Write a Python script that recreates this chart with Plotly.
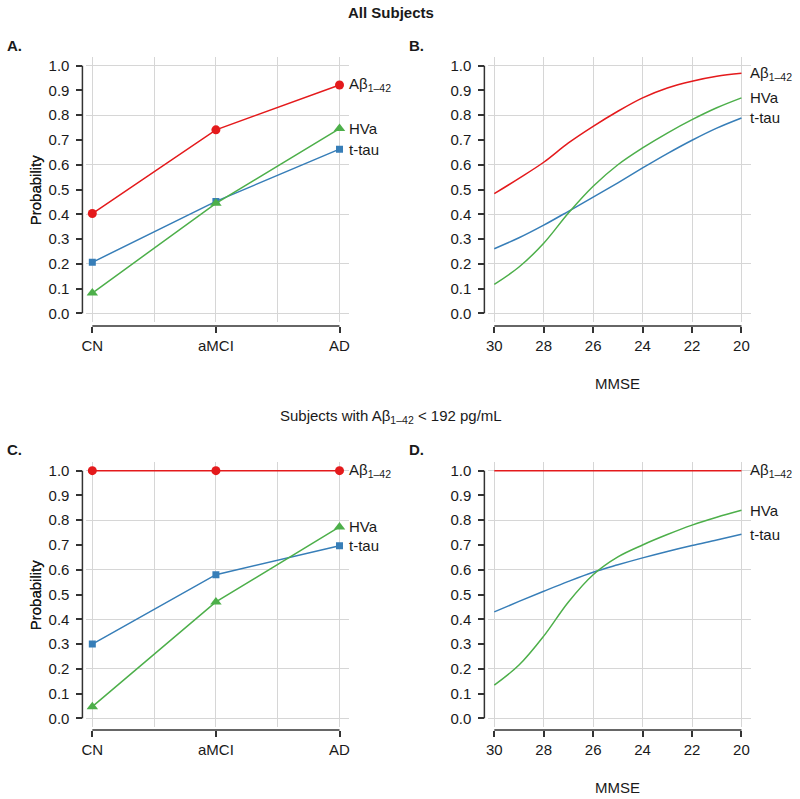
import plotly.graph_objects as go

W, H = 800, 799

# ---------------- data ----------------
groups = ["CN", "aMCI", "AD"]
group_pos = [0, 1, 2]
group_grid = [0, 0.5, 1, 1.5, 2]
mmse = [30, 29, 28, 27, 26, 25, 24, 23, 22, 21, 20]
mmse_ticks = [30, 28, 26, 24, 22, 20]
prob_ticks = [0.0, 0.1, 0.2, 0.3, 0.4, 0.5, 0.6, 0.7, 0.8, 0.9, 1.0]
prob_tick_text = ["0.0", "0.1", "0.2", "0.3", "0.4", "0.5", "0.6", "0.7", "0.8", "0.9", "1.0"]
prob_grid = [0.0, 0.2, 0.4, 0.6, 0.8, 1.0]

series_names = ["Aβ<sub>1–42</sub>", "t-tau", "HVa"]

# Panel A: all subjects, by diagnostic group
a_abeta = [0.403, 0.741, 0.922]
a_ttau = [0.206, 0.452, 0.663]
a_hva = [0.082, 0.444, 0.746]

# Panel B: all subjects, by MMSE
b_abeta = [0.483, 0.545, 0.610, 0.688, 0.755, 0.816, 0.870, 0.910, 0.937, 0.957, 0.969]
b_ttau = [0.261, 0.305, 0.356, 0.412, 0.469, 0.527, 0.587, 0.645, 0.699, 0.748, 0.789]
b_hva = [0.117, 0.187, 0.283, 0.405, 0.513, 0.600, 0.668, 0.728, 0.782, 0.830, 0.870]

# Panel C: Abeta-positive subjects, by diagnostic group
c_abeta = [1.0, 1.0, 1.0]
c_ttau = [0.300, 0.580, 0.697]
c_hva = [0.047, 0.470, 0.773]

# Panel D: Abeta-positive subjects, by MMSE
d_abeta = [1.0, 1.0, 1.0, 1.0, 1.0, 1.0, 1.0, 1.0, 1.0, 1.0, 1.0]
d_ttau = [0.430, 0.472, 0.513, 0.553, 0.590, 0.620, 0.648, 0.674, 0.698, 0.720, 0.743]
d_hva = [0.134, 0.215, 0.332, 0.470, 0.580, 0.652, 0.700, 0.742, 0.780, 0.812, 0.840]

# ---------------- style ----------------
RED, BLUE, GREEN = "#E41A1C", "#377EB8", "#4DAF4A"
colors = [RED, BLUE, GREEN]
symbols = ["circle", "square", "triangle-up"]
msizes = [9, 7, 10]
GRID = "#d6d6d6"
AX = "#333333"
TXT = "#1a1a1a"
FONT = "Liberation Sans, Arial, Helvetica, sans-serif"
FS = 15

# panel geometry in pixels: grid box x0,x1,y0,y1, y-axis line x, x-axis line y
panels = {
    1: dict(box=(82, 347, 57, 322), yline=78, xline=326, kind="group",
            data=[a_abeta, a_ttau, a_hva], letter="A."),
    2: dict(box=(487, 752, 57, 322), yline=483, xline=326, kind="mmse",
            data=[b_abeta, b_ttau, b_hva], letter="B."),
    3: dict(box=(82, 347, 462, 727), yline=78, xline=730, kind="group",
            data=[c_abeta, c_ttau, c_hva], letter="C."),
    4: dict(box=(487, 752, 462, 727), yline=483, xline=730, kind="mmse",
            data=[d_abeta, d_ttau, d_hva], letter="D."),
}

fig = go.Figure()
layout = dict(
    width=W, height=H, margin=dict(l=0, r=0, t=0, b=0),
    paper_bgcolor="white", plot_bgcolor="white", showlegend=False,
    font=dict(family=FONT, size=FS, color=TXT),
)
shapes = []
annotations = []

yrange = [-0.035, 1.035]

for i, p in panels.items():
    x0, x1, y0, y1 = p["box"]
    if p["kind"] == "group":
        xs = group_pos
        xrange = [-0.048, 2.08]
        gridvals = group_grid
        tickvals = group_pos
        ticktext = groups
        mode = "lines+markers"
        shape = "linear"
    else:
        xs = mmse
        xrange = [30.24, 19.6]
        gridvals = mmse_ticks
        tickvals = mmse_ticks
        ticktext = [str(v) for v in mmse_ticks]
        mode = "lines"
        shape = "spline"

    layout[f"xaxis{i}"] = dict(
        domain=[x0 / W, x1 / W], range=xrange, anchor=f"y{i}",
        tickmode="array", tickvals=gridvals, showticklabels=False, ticks="",
        showgrid=True, gridcolor=GRID, gridwidth=1.2, zeroline=False, showline=False,
    )
    layout[f"yaxis{i}"] = dict(
        domain=[1 - y1 / H, 1 - y0 / H], range=yrange, anchor=f"x{i}",
        tickmode="array", tickvals=prob_grid, showticklabels=False, ticks="",
        showgrid=True, gridcolor=GRID, gridwidth=1.2, zeroline=False, showline=False,
    )
    # label/tick axes (overlaid, offset like R axes)
    layout[f"xaxis{i + 4}"] = dict(
        overlaying=f"x{i}", anchor="free", position=1 - p["xline"] / H, side="bottom",
        range=xrange, tickmode="array", tickvals=tickvals, ticktext=ticktext,
        ticks="outside", ticklen=6, tickwidth=1.5, tickcolor=AX,
        showgrid=False, zeroline=False, showline=False,
        tickfont=dict(family=FONT, size=FS, color=TXT),
    )
    layout[f"yaxis{i + 4}"] = dict(
        overlaying=f"y{i}", anchor="free", position=p["yline"] / W, side="left",
        range=yrange, tickmode="array", tickvals=prob_ticks, ticktext=prob_tick_text,
        ticks="outside", ticklen=6, tickwidth=1.5, tickcolor=AX, ticklabelstandoff=4,
        showgrid=False, zeroline=False, showline=False,
        tickfont=dict(family=FONT, size=FS, color=TXT),
    )
    fig.add_trace(go.Scatter(x=[], y=[], xaxis=f"x{i + 4}", yaxis=f"y{i + 4}",
                             showlegend=False, hoverinfo="skip"))

    # axis lines (only spanning the tick range, R style)
    shapes.append(dict(type="line", xref="paper", yref=f"y{i}",
                       x0=p["yline"] / W, x1=p["yline"] / W,
                       y0=prob_ticks[0], y1=prob_ticks[-1],
                       line=dict(color=AX, width=1.5)))
    shapes.append(dict(type="line", xref=f"x{i}", yref="paper",
                       x0=tickvals[0], x1=tickvals[-1],
                       y0=1 - p["xline"] / H, y1=1 - p["xline"] / H,
                       line=dict(color=AX, width=1.5)))

    for k, ys in enumerate(p["data"]):
        tr = dict(x=xs, y=ys, xaxis=f"x{i}", yaxis=f"y{i}", mode=mode,
                  line=dict(color=colors[k], width=1.5, shape=shape),
                  showlegend=False, hoverinfo="skip")
        if mode == "lines+markers":
            tr["marker"] = dict(symbol=symbols[k], size=msizes[k], color=colors[k],
                                line=dict(width=0))
        fig.add_trace(go.Scatter(**tr))
        annotations.append(dict(
            x=xs[-1], y=ys[-1], xref=f"x{i}", yref=f"y{i}",
            text=series_names[k], showarrow=False, xanchor="left", yanchor="middle",
            xshift=7, font=dict(family=FONT, size=FS, color=TXT),
        ))

    # y-axis title
    annotations.append(dict(
        x=31 / W, y=1 - ((y0 + y1) / 2) / H, xref="paper", yref="paper",
        text="Probability", textangle=-90, showarrow=False,
        xanchor="center", yanchor="middle", font=dict(family=FONT, size=FS, color=TXT),
    ))
    # panel letter
    annotations.append(dict(
        x=(0 if p["kind"] == "group" else 405) / W,
        y=1 - ((45 if i <= 2 else 449)) / H, xref="paper", yref="paper",
        text=f"<b>{p['letter']}</b>", showarrow=False, xanchor="left", yanchor="middle",
        font=dict(family=FONT, size=FS, color=TXT),
    ))
    if p["kind"] == "mmse":
        annotations.append(dict(
            x=617.5 / W, y=1 - ((383 if i <= 2 else 787)) / H, xref="paper", yref="paper",
            text="MMSE", showarrow=False, xanchor="center", yanchor="middle",
            font=dict(family=FONT, size=FS, color=TXT),
        ))

annotations.append(dict(
    x=389 / W, y=1 - 12 / H, xref="paper", yref="paper", text="<b>All Subjects</b>",
    showarrow=False, xanchor="center", yanchor="middle",
    font=dict(family=FONT, size=FS, color=TXT),
))
annotations.append(dict(
    x=389 / W, y=1 - 416 / H, xref="paper", yref="paper",
    text="Subjects with Aβ<sub>1–42</sub> &lt; 192 pg/mL",
    showarrow=False, xanchor="center", yanchor="middle",
    font=dict(family=FONT, size=FS, color=TXT),
))

layout["shapes"] = shapes
layout["annotations"] = annotations
fig.update_layout(**layout)
fig.write_html(
    "out.html",
    config={"displayModeBar": False},
    post_script="document.body.style.margin='0';document.body.style.padding='0';"
                "document.body.style.overflow='hidden';",
)
